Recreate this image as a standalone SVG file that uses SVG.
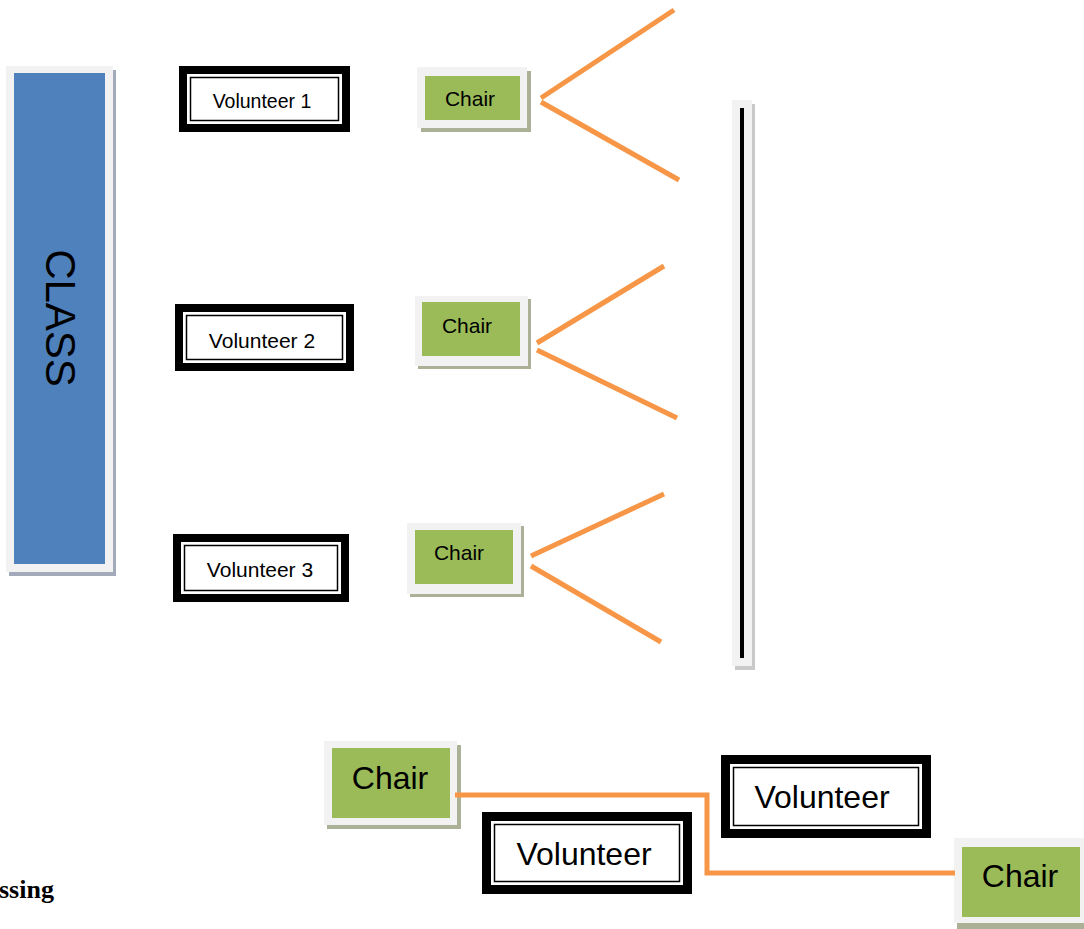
<svg xmlns="http://www.w3.org/2000/svg" width="1084" height="929" viewBox="0 0 1084 929">
<style>
.frame{fill:#f2f2f2}
.shB{fill:#a3aab9}
.shG{fill:#aab197}
.shK{fill:#c9c9c9}
.blue{fill:#4f81bd}
.green{fill:#9bbb59}
.vo{fill:#000}
.vi{fill:#fff}
.vl{fill:none;stroke:#000;stroke-width:1.5}
.t{font-family:"Liberation Sans",Arial,sans-serif;fill:#000;text-anchor:middle;dominant-baseline:central}
.c{fill:none;stroke:#f79646;stroke-width:5}
</style>
<rect width="1084" height="929" fill="#fff"/>
<g id="class">
<rect class="shB" x="9" y="70" width="107" height="506"/>
<rect class="frame" x="6" y="66" width="107" height="506"/>
<rect class="blue" x="14" y="73" width="91" height="491"/>
<text class="t" transform="translate(60,318) rotate(90)" font-size="42">CLASS</text>
</g>
<g id="volunteer1">
<rect class="vo" x="179" y="66" width="171" height="66"/>
<rect class="vi" x="187" y="74" width="155" height="50"/>
<rect class="vl" x="190.5" y="77.5" width="148" height="43"/>
<text class="t" x="262" y="101" font-size="19.5" font-family="Carlito,'Liberation Sans',sans-serif">Volunteer 1</text>
</g>
<g id="volunteer2">
<rect class="vo" x="175" y="304" width="179" height="67"/>
<rect class="vi" x="183" y="312" width="163" height="51"/>
<rect class="vl" x="186.5" y="315.5" width="156" height="44"/>
<text class="t" x="262" y="340" font-size="21">Volunteer 2</text>
</g>
<g id="volunteer3">
<rect class="vo" x="173" y="534" width="176" height="68"/>
<rect class="vi" x="181" y="542" width="160" height="52"/>
<rect class="vl" x="184.5" y="545.5" width="153" height="45"/>
<text class="t" x="260" y="569" font-size="21">Volunteer 3</text>
</g>
<g id="chair1">
<rect class="shG" x="421" y="71" width="110" height="61"/>
<rect class="frame" x="417" y="67" width="110" height="61"/>
<rect class="green" x="425" y="76" width="95" height="44"/>
<text class="t" x="470" y="98" font-size="21">Chair</text>
</g>
<g id="chair2">
<rect class="shG" x="418" y="299" width="113" height="70"/>
<rect class="frame" x="415" y="296" width="113" height="70"/>
<rect class="green" x="422" y="302" width="98" height="54"/>
<text class="t" x="467" y="325" font-size="21">Chair</text>
</g>
<g id="chair3">
<rect class="shG" x="410" y="526" width="114" height="71"/>
<rect class="frame" x="407" y="523" width="114" height="71"/>
<rect class="green" x="415" y="530" width="98" height="54"/>
<text class="t" x="459" y="552" font-size="21">Chair</text>
</g>
<g id="bar">
<rect class="shK" x="735" y="104" width="20" height="566"/>
<rect class="frame" x="732" y="100" width="20" height="566"/>
<rect fill="#000" x="740" y="108" width="4" height="550"/>
</g>
<g id="chair4">
<rect class="shG" x="327" y="745" width="134" height="84"/>
<rect class="frame" x="324" y="741" width="133" height="84"/>
<rect class="green" x="332" y="748" width="118" height="70"/>
<text class="t" x="390" y="778" font-size="32">Chair</text>
</g>
<g id="volunteer4">
<rect class="vo" x="721" y="755" width="210" height="83"/>
<rect class="vi" x="730" y="764" width="192" height="65"/>
<rect class="vl" x="733.5" y="767.5" width="185" height="58"/>
<text class="t" x="822" y="797" font-size="32">Volunteer</text>
</g>
<g id="volunteer5">
<rect class="vo" x="482" y="812" width="210" height="82"/>
<rect class="vi" x="491" y="821" width="192" height="64"/>
<rect class="vl" x="494.5" y="824.5" width="185" height="57"/>
<text class="t" x="584" y="854" font-size="32">Volunteer</text>
</g>
<g id="chair5">
<rect class="shG" x="957" y="843" width="130" height="86"/>
<rect class="frame" x="954" y="838" width="130" height="85"/>
<rect class="green" x="962" y="847" width="118" height="70"/>
<text class="t" x="1020" y="876" font-size="32">Chair</text>
</g>
<g id="connectors">
<line class="c" x1="541" y1="98" x2="674" y2="10"/>
<line class="c" x1="541" y1="102" x2="679" y2="180"/>
<line class="c" x1="537" y1="343" x2="664" y2="266"/>
<line class="c" x1="537" y1="350" x2="677" y2="418"/>
<line class="c" x1="531" y1="556" x2="664" y2="494"/>
<line class="c" x1="531" y1="566" x2="661" y2="642"/>
<polyline class="c" points="455,795 707,795 707,873 955,873"/>
</g>
<text x="-1" y="898" font-family="'Liberation Serif',serif" font-weight="bold" font-size="26" fill="#000">ssing</text>
</svg>
